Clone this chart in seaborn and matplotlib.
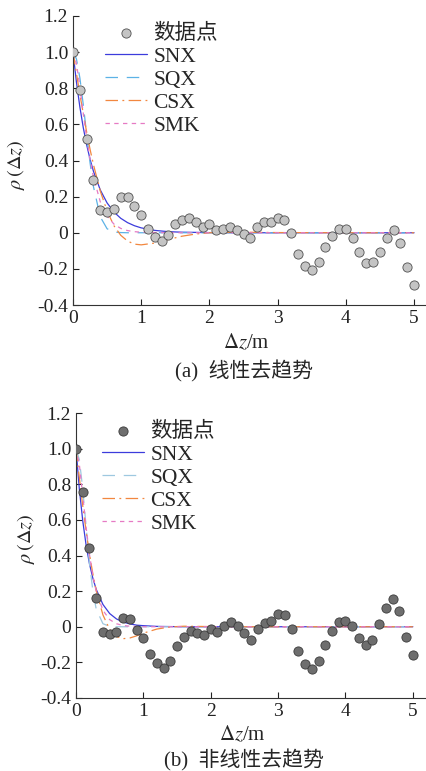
import matplotlib
matplotlib.use("Agg")
import matplotlib.pyplot as plt
import seaborn as sns

# lag distance of the data points (m)
lag_m = [0.0, 0.1, 0.2, 0.3, 0.4, 0.5, 0.6, 0.7, 0.8, 0.9,
         1.0, 1.1, 1.2, 1.3, 1.4, 1.5, 1.6, 1.7, 1.8, 1.9,
         2.0, 2.1, 2.2, 2.3, 2.4, 2.5, 2.6, 2.7, 2.8, 2.9,
         3.0, 3.1, 3.2, 3.3, 3.4, 3.5, 3.6, 3.7, 3.8, 3.9,
         4.0, 4.1, 4.2, 4.3, 4.4, 4.5, 4.6, 4.7, 4.8, 4.9, 5.0]

# (a) linear detrending
rho_linear = [1.0, 0.79, 0.52, 0.29, 0.126, 0.113, 0.133, 0.2, 0.2, 0.15,
              0.1, 0.02, -0.022, -0.043, -0.013, 0.05, 0.069, 0.083, 0.059, 0.033,
              0.05, 0.015, 0.02, 0.031, 0.015, -0.009, -0.028, 0.031, 0.057, 0.057,
              0.083, 0.069, -0.004, -0.119, -0.183, -0.204, -0.161, -0.081, -0.019, 0.022,
              0.022, -0.031, -0.107, -0.17, -0.163, -0.104, -0.031, 0.013, -0.056, -0.189, -0.289]

# (b) nonlinear detrending
rho_nonlinear = [1.0, 0.758, 0.44, 0.163, -0.03, -0.041, -0.028, 0.049, 0.043, -0.019,
                 -0.065, -0.151, -0.206, -0.23, -0.194, -0.108, -0.06, -0.024, -0.034, -0.047,
                 -0.013, -0.028, 0.004, 0.026, 0.007, -0.034, -0.073, -0.013, 0.022, 0.03,
                 0.069, 0.065, -0.013, -0.135, -0.207, -0.237, -0.193, -0.103, -0.024, 0.028,
                 0.034, 0.002, -0.062, -0.103, -0.073, 0.013, 0.107, 0.155, 0.09, -0.056, -0.157]

# fitted correlation curves
fit_lag = [0, 0.05, 0.1, 0.15, 0.2, 0.25, 0.3, 0.4, 0.5, 0.6, 0.7, 0.8, 0.9,
           1.0, 1.2, 1.4, 1.6, 1.8, 2.0, 2.5, 3.0, 4.0, 5.0]

snx_a = [1, 0.835, 0.698, 0.583, 0.487, 0.407, 0.340, 0.237, 0.165, 0.115, 0.080, 0.056, 0.039,
         0.027, 0.013, 0.006, 0.003, 0.002, 0.001, 0, 0, 0, 0]
sqx_a = [1, 0.963, 0.859, 0.711, 0.545, 0.387, 0.255, 0.088, 0.022, 0.004, 0.001, 0, 0,
         0, 0, 0, 0, 0, 0, 0, 0, 0, 0]
csx_a = [1, 0.883, 0.769, 0.660, 0.558, 0.462, 0.377, 0.231, 0.120, 0.039, -0.014, -0.046, -0.063,
         -0.067, -0.057, -0.037, -0.019, -0.007, 0.0, 0.003, 0.001, 0, 0]
smk_a = [1, 0.938, 0.809, 0.663, 0.525, 0.406, 0.308, 0.171, 0.092, 0.048, 0.024, 0.012, 0.006,
         0.003, 0.001, 0, 0, 0, 0, 0, 0, 0, 0]

snx_b = [1, 0.771, 0.595, 0.458, 0.353, 0.273, 0.210, 0.125, 0.074, 0.044, 0.026, 0.016, 0.009,
         0.006, 0.002, 0.001, 0, 0, 0, 0, 0, 0, 0]
sqx_b = [1, 0.938, 0.774, 0.562, 0.359, 0.201, 0.099, 0.017, 0.002, 0, 0, 0, 0,
         0, 0, 0, 0, 0, 0, 0, 0, 0, 0]
csx_b = [1, 0.836, 0.680, 0.537, 0.408, 0.297, 0.204, 0.066, -0.015, -0.055, -0.067, -0.063, -0.051,
         -0.036, -0.013, -0.001, 0.003, 0.002, 0.001, 0, 0, 0, 0]
smk_b = [1, 0.910, 0.736, 0.558, 0.406, 0.287, 0.199, 0.092, 0.040, 0.017, 0.007, 0.003, 0.001,
         0, 0, 0, 0, 0, 0, 0, 0, 0, 0]

y_ticks = [-0.4, -0.2, 0, 0.2, 0.4, 0.6, 0.8, 1.0, 1.2]
y_ticklabels = ["-0.4", "-0.2", "0", "0.2", "0.4", "0.6", "0.8", "1.0", "1.2"]
x_ticks = [0, 1, 2, 3, 4, 5]

sns.set_theme(style="ticks")
plt.rcParams["font.family"] = ["Liberation Serif", "Noto Sans CJK SC"]
plt.rcParams["mathtext.fontset"] = "stix"

fig = plt.figure(figsize=(4.27, 7.71), dpi=100)
W, H = 427, 771


def px_axes(left, top, right, bottom):
    return fig.add_axes([left / W, 1 - bottom / H, (right - left) / W, (bottom - top) / H])


def draw_panel(ax, rho, curves, face, edge, sqx_color, xmax, legend_xy, ylabel_xy):
    snx, sqx, csx, smk = curves
    sns.lineplot(x=fit_lag, y=snx, ax=ax, color="#3c3cdc", lw=0.9, label="SNX")
    sns.lineplot(x=fit_lag, y=sqx, ax=ax, color=sqx_color, lw=0.9,
                 linestyle=(0, (10, 7)), label="SQX")
    sns.lineplot(x=fit_lag, y=csx, ax=ax, color="#f2873f", lw=0.9,
                 linestyle=(0, (10, 3.5, 1.5, 3.5)), label="CSX")
    sns.lineplot(x=fit_lag, y=smk, ax=ax, color="#e67ac4", lw=0.9,
                 linestyle=(0, (3.5, 3.5)), label="SMK")
    sns.scatterplot(x=lag_m, y=rho, ax=ax, s=44, color=face, edgecolor=edge,
                    linewidth=0.6, zorder=3, label="数据点")

    ax.set_xlim(0, xmax)
    ax.set_ylim(-0.4, 1.2)
    ax.set_xticks(x_ticks)
    ax.set_yticks(y_ticks)
    ax.set_yticklabels(y_ticklabels)
    ax.tick_params(direction="in", length=4, width=0.8, pad=3.5, labelsize=14,
                   colors="#222222")
    for s in ["top", "right"]:
        ax.spines[s].set_visible(False)
    for s in ["left", "bottom"]:
        ax.spines[s].set_linewidth(0.8)
        ax.spines[s].set_color("#333333")

    ax.set_xlabel(r"$\Delta z$/m", fontsize=15)
    ax.set_ylabel(r"$\rho\,(\Delta z)$", fontsize=14.5)
    ax.yaxis.set_label_coords(*ylabel_xy)

    handles, labels = ax.get_legend_handles_labels()
    order = [labels.index(n) for n in ["数据点", "SNX", "SQX", "CSX", "SMK"]]
    ax.legend([handles[i] for i in order], [labels[i] for i in order],
              loc="upper left", bbox_to_anchor=(legend_xy[0] / W, 1 - legend_xy[1] / H),
              bbox_transform=fig.transFigure, frameon=False, fontsize=15.5,
              borderpad=0, borderaxespad=0, handlelength=1.95, handletextpad=0.3,
              labelspacing=0.13, markerscale=1.0)


ax_a = px_axes(73, 16, 427, 305)
draw_panel(ax_a, rho_linear, (snx_a, sqx_a, csx_a, smk_a), "#c4c4c4", "#505050",
           "#5cb2e6", 5.19, (105, 24), (-0.13, 0.484))
ax_a.xaxis.set_label_coords(0.49, -0.095)

ax_b = px_axes(76, 413, 427, 698)
draw_panel(ax_b, rho_nonlinear, (snx_b, sqx_b, csx_b, smk_b), "#6e6e6e", "#3a3a3a",
           "#9ec8e0", 5.21, (102, 422), (-0.112, 0.558))
ax_b.xaxis.set_label_coords(0.475, -0.095)

fig.text(244 / W, 1 - 371 / H, "(a)  线性去趋势", ha="center", va="center", fontsize=15)
fig.text(244 / W, 1 - 760 / H, "(b)  非线性去趋势", ha="center", va="center", fontsize=15)

fig.savefig("out.png", dpi=100)
